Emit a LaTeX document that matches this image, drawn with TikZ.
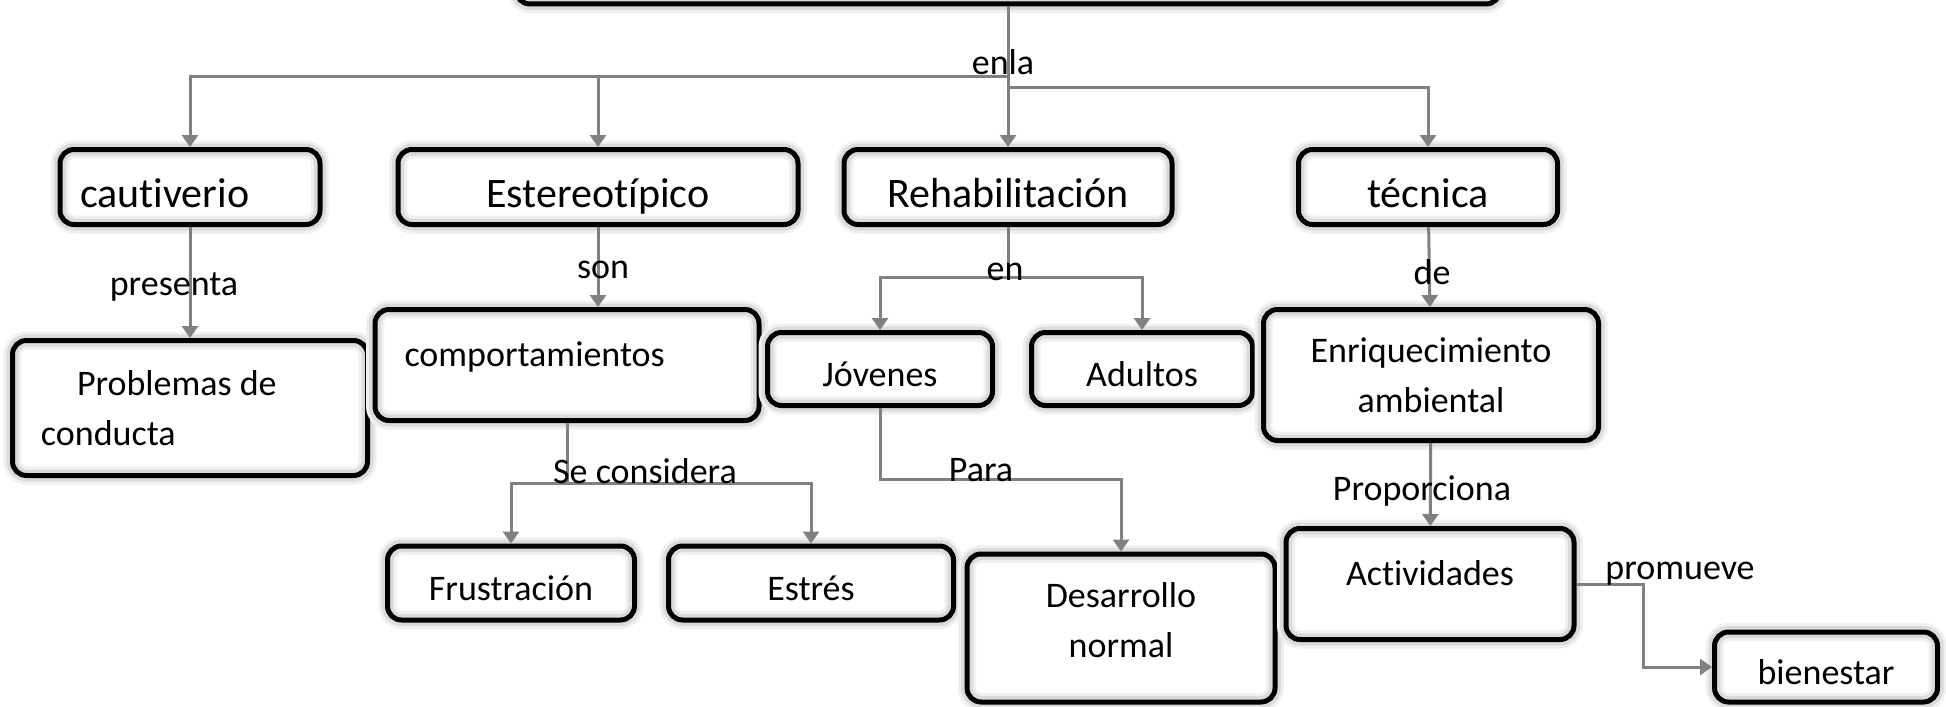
\documentclass[tikz,border=0pt]{standalone}
\usepackage{fontspec}
\setmainfont{Carlito}[Ligatures=CommonOff]
\usetikzlibrary{arrows.meta}

\tikzstyle{myBox} = [draw=black, line width=2.5pt,
    preaction={fill=white},
    preaction={draw=black!6, line width=9pt},
    preaction={draw=black!14, line width=6pt},
    rectangle, rounded corners=7pt, inner sep=3pt, align=center,
    font=\fontsize{18pt}{25pt}\selectfont]
\tikzstyle{myWord} = [myBox, text height=19pt, text depth=2pt]
\tikzstyle{myWordBig} = [myBox, font=\fontsize{21pt}{26pt}\selectfont,
    text height=22pt, text depth=2pt]
\tikzstyle{myLabel} = [inner sep=0pt, font=\fontsize{18pt}{22pt}\selectfont]
\tikzstyle{myLine} = [draw=black!50, line width=1.5pt]
\tikzstyle{myArrow} = [myLine, -{Triangle[length=6pt,width=8pt]}]

\begin{document}
\begin{tikzpicture}[x=0.5pt, y=-0.5pt]

\useasboundingbox (0,0) rectangle (1946,706);
\clip (0,0) rectangle (1946,706);

\node[myBox, minimum width=492pt, minimum height=50pt] (Tema) at (1008,-46) {};
  \node[myWordBig, minimum width=130pt, minimum height=37.5pt, text width=110pt, align=flush left] (Cautiverio) at (190,187) {cautiverio};
  \node[myWordBig, minimum width=200pt, minimum height=37.5pt] (Estereotipico) at (598,187) {Estereotípico};
  \node[myWordBig, minimum width=164pt, minimum height=37.5pt] (Rehabilitacion) at (1008,187) {Rehabilitación};
  \node[myWordBig, minimum width=129.5pt, minimum height=37.5pt] (Tecnica) at (1428,187) {técnica};
    \node[myBox, minimum width=177.5pt, minimum height=67.5pt, text width=160pt, align=flush left] (Problemas) at (190,408) {\hspace*{23.5pt}Problemas de\\\hspace*{5.5pt}conducta};
    \node[myWord, minimum width=192pt, minimum height=55.5pt, text width=180pt, align=flush left, text height=12.5pt, text depth=11pt] (Comportamientos) at (567,365) {\hspace*{8.75pt}comportamientos};
    \node[myWord, minimum width=112.5pt, minimum height=36.5pt] (Jovenes) at (880,369) {Jóvenes};
    \node[myWord, minimum width=110.5pt, minimum height=36.5pt] (Adultos) at (1142,369) {Adultos};
    \node[myBox, minimum width=167.5pt, minimum height=65.5pt] (Enriquecimiento) at (1431,375) {Enriquecimiento\\ambiental};
      \node[myWord, minimum width=123.5pt, minimum height=37pt] (Frustracion) at (511,583) {Frustración};
      \node[myWord, minimum width=142.5pt, minimum height=37pt] (Estres) at (811,583) {Estrés};
      \node[myBox, minimum width=154pt, minimum height=74pt, text depth=8.5pt] (Desarrollo) at (1121,628) {Desarrollo\\normal};
      \node[myWord, minimum width=144pt, minimum height=55.5pt, text height=13pt, text depth=12pt] (Actividades) at (1430,584) {Actividades};
      \node[myWord, minimum width=111.5pt, minimum height=35pt] (Bienestar) at (1826,667) {bienestar};

\coordinate (EnlaL) at (1008,77);
\coordinate (EnlaR) at (1008,88);
\coordinate (EnJ) at (1008,277);
\coordinate (SeJ) at (567,483);
\coordinate (ParaJ) at (1121,479);
\coordinate (PromJ) at (1643,620);

\draw[myArrow] (Tema) -- (Rehabilitacion);
\draw[myArrow] (EnlaL) -| (Cautiverio);
\draw[myArrow] (EnlaL) -| (Estereotipico);
\draw[myArrow] (EnlaR) -| (Tecnica);
\draw[myArrow] (Cautiverio) -- (Problemas);
\draw[myArrow] (Estereotipico) -- (Estereotipico |- Comportamientos.north);
\draw[myLine] (Rehabilitacion) -- (EnJ);
\draw[myArrow] (EnJ) -| (Jovenes);
\draw[myArrow] (EnJ) -| (Adultos);
\draw[myArrow] (Tecnica) -- (Enriquecimiento);
\draw[myLine] (Comportamientos) -- (SeJ);
\draw[myArrow] (SeJ) -| (Frustracion);
\draw[myArrow] (SeJ) -| (Estres);
\draw[myArrow] (Jovenes) |- (ParaJ) -- (Desarrollo);
\draw[myArrow] (Enriquecimiento) -- (Actividades);
\draw[myArrow] (Actividades) -| (PromJ) |- (Bienestar);

\node[myLabel] (Enla) at (1003,62) {enla};
\node[myLabel] (Presenta) at (174,287) {presenta};
\node[myLabel] (Son) at (603,270) {son};
\node[myLabel] (En) at (1005,272) {en};
\node[myLabel] (De) at (1432,272) {de};
\node[myLabel] (SeConsidera) at (645,471) {Se considera};
\node[myLabel] (Para) at (981,470) {Para};
\node[myLabel] (Proporciona) at (1422,491) {Proporciona};
\node[myLabel] (Promueve) at (1680,574) {promueve};
\end{tikzpicture}
\end{document}
